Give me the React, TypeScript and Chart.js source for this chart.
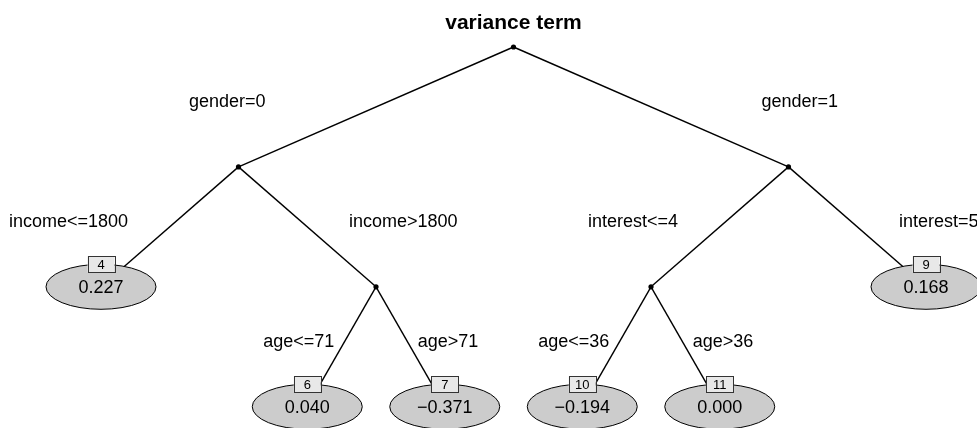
import React, { useEffect, useRef } from "react";
import { Chart, registerables } from "chart.js";

Chart.register(...registerables);

// ---- data ----
const TITLE = "variance term";
const nodeIds = ["1", "2", "4", "5", "6", "7", "8", "12", "10", "11", "9"];
const nodeParent = [null, "1", "2", "2", "5", "5", "1", "8", "12", "12", "8"];
const nodeDepth = [0, 1, 2, 2, 3, 3, 1, 2, 3, 3, 2];
const edgeLabels = [
  null,
  "gender=0",
  "income<=1800",
  "income>1800",
  "age<=71",
  "age>71",
  "gender=1",
  "interest<=4",
  "age<=36",
  "age>36",
  "interest=5",
];
// leaf slot along the horizontal layout axis (null for inner nodes)
const leafSlot = [null, null, 0, null, 1.5, 2.5, null, null, 3.5, 4.5, 6];
// predicted value in terminal node (null for inner nodes)
const leafValues = [null, null, 0.227, null, 0.04, -0.371, null, null, -0.194, 0.0, 0.168];

const FONT = "'Liberation Sans', Arial, Helvetica, sans-serif";

function computeX(): number[] {
  const xs: (number | null)[] = leafSlot.slice();
  const resolve = (i: number): number => {
    if (xs[i] != null) return xs[i] as number;
    const kids = nodeIds
      .map((_, j) => j)
      .filter((j) => nodeParent[j] === nodeIds[i]);
    const vals = kids.map(resolve);
    const v = (Math.min(...vals) + Math.max(...vals)) / 2;
    xs[i] = v;
    return v;
  };
  nodeIds.forEach((_, i) => resolve(i));
  return xs as number[];
}

function fmt(v: number): string {
  const s = Math.abs(v).toFixed(3);
  return v < 0 ? "\u2212" + s : s;
}

export default function App() {
  const ref = useRef<HTMLCanvasElement | null>(null);

  useEffect(() => {
    if (!ref.current) return;
    const xs = computeX();
    const edgeDatasets: any[] = [];
    const edgeInfo: { label: string; child: number; parent: number }[] = [];
    nodeIds.forEach((id, i) => {
      const p = nodeParent[i];
      if (p == null) return;
      const pi = nodeIds.indexOf(p);
      edgeInfo.push({ label: edgeLabels[i] as string, child: i, parent: pi });
      edgeDatasets.push({
        type: "line",
        data: [
          { x: xs[pi], y: nodeDepth[pi] },
          { x: xs[i], y: nodeDepth[i] },
        ],
        borderColor: "#000000",
        borderWidth: 1.4,
        pointRadius: 0,
        fill: false,
        showLine: true,
        order: 3,
      });
    });
    const innerIdx = nodeIds.map((_, i) => i).filter((i) => leafSlot[i] == null);
    const leafIdx = nodeIds.map((_, i) => i).filter((i) => leafSlot[i] != null);

    const innerDataset = {
      type: "scatter",
      data: innerIdx.map((i) => ({ x: xs[i], y: nodeDepth[i] })),
      pointRadius: 2.6,
      pointBackgroundColor: "#000000",
      pointBorderWidth: 0,
      order: 2,
    };
    const leafDataset = {
      type: "scatter",
      data: leafIdx.map((i) => ({ x: xs[i], y: nodeDepth[i] })),
      pointRadius: 0,
      order: 1,
    };
    const datasets = [...edgeDatasets, innerDataset, leafDataset];
    const leafDsIndex = datasets.length - 1;
    const innerDsIndex = datasets.length - 2;

    const treePlugin = {
      id: "treeDecor",
      afterDatasetsDraw(chart: any) {
        const ctx = chart.ctx as CanvasRenderingContext2D;
        ctx.save();
        // edge labels
        ctx.fillStyle = "#000";
        ctx.font = `18px ${FONT}`;
        ctx.textBaseline = "middle";
        edgeInfo.forEach((e, k) => {
          const meta = chart.getDatasetMeta(k);
          const a = meta.data[0];
          const b = meta.data[1];
          const left = b.x < a.x;
          ctx.textAlign = left ? "right" : "left";
          ctx.fillText(e.label, b.x + (left ? 27 : -27), b.y - 65);
        });
        // terminal nodes
        const lm = chart.getDatasetMeta(leafDsIndex);
        leafIdx.forEach((ni, k) => {
          const el = lm.data[k];
          const cx = el.x;
          const cy = el.y;
          const rx = 55;
          const ry = 22.5;
          ctx.beginPath();
          ctx.ellipse(cx, cy, rx, ry, 0, 0, Math.PI * 2);
          ctx.fillStyle = "#cccccc";
          ctx.fill();
          ctx.lineWidth = 1;
          ctx.strokeStyle = "#000";
          ctx.stroke();
          ctx.fillStyle = "#000";
          ctx.font = `18px ${FONT}`;
          ctx.textAlign = "center";
          ctx.textBaseline = "middle";
          ctx.fillText(fmt(leafValues[ni] as number), cx, cy + 1);
          // id box
          const bw = 27;
          const bh = 16;
          const by = cy - ry;
          ctx.fillStyle = "#e8e8e8";
          ctx.fillRect(cx - bw / 2, by - bh / 2, bw, bh);
          ctx.strokeStyle = "#333";
          ctx.lineWidth = 1;
          ctx.strokeRect(Math.round(cx - bw / 2) + 0.5, Math.round(by - bh / 2) + 0.5, bw, bh);
          ctx.fillStyle = "#000";
          ctx.font = `13px ${FONT}`;
          ctx.fillText(nodeIds[ni], cx, by + 1);
        });
        ctx.restore();
      },
      afterDraw(chart: any) {
        const ctx = chart.ctx as CanvasRenderingContext2D;
        const im = chart.getDatasetMeta(innerDsIndex);
        const root = im.data[0];
        ctx.save();
        ctx.fillStyle = "#000";
        ctx.font = `bold 21px ${FONT}`;
        ctx.textAlign = "center";
        ctx.textBaseline = "middle";
        ctx.fillText(TITLE, root.x, 23);
        ctx.restore();
      },
    };

    const chart = new Chart(ref.current, {
      type: "scatter",
      data: { datasets: datasets as any },
      options: {
        animation: false,
        responsive: true,
        maintainAspectRatio: false,
        events: [],
        layout: { padding: 0, autoPadding: false },
        plugins: {
          legend: { display: false },
          tooltip: { enabled: false },
          title: { display: false },
        },
        scales: {
          x: {
            type: "linear",
            display: false,
            min: -101 / 137.5,
            max: (977 - 101) / 137.5,
          },
          y: {
            type: "linear",
            display: false,
            reverse: true,
            min: -47 / 119.9,
            max: (428 - 47) / 119.9,
          },
        },
      },
      plugins: [treePlugin],
    } as any);
    return () => chart.destroy();
  }, []);

  return (
    <div
      style={{
        position: "fixed",
        left: 0,
        top: 0,
        width: 977,
        height: 428,
        background: "#ffffff",
      }}
    >
      <canvas ref={ref} />
    </div>
  );
}
